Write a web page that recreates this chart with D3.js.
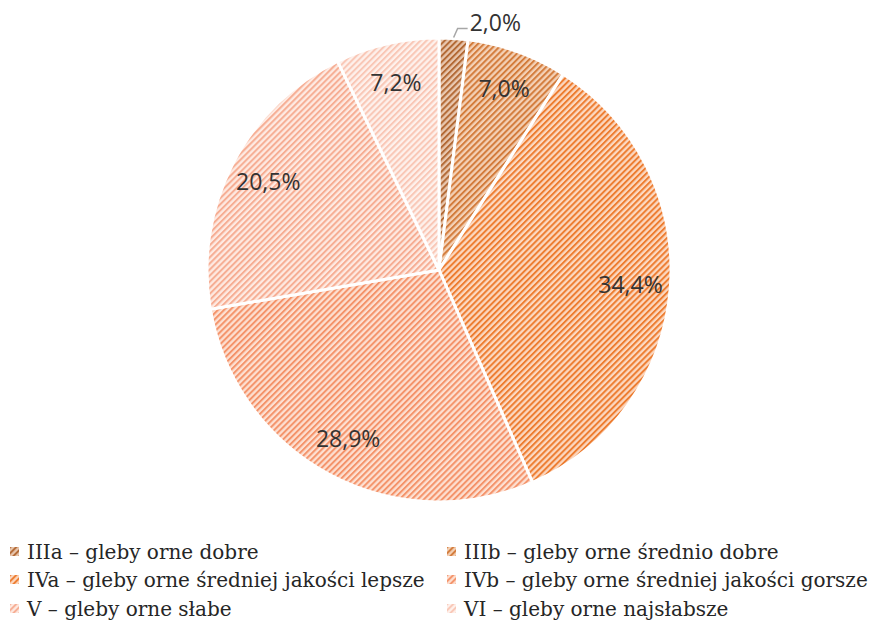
<!DOCTYPE html>
<meta charset="utf-8">
<style>
body { margin: 0; background: #fff; }
.labels text { font: 23px "Open Sans", sans-serif; fill: #333; }
.legend text { font: 20px "DejaVu Serif", serif; fill: #262626; }
</style>
<body>
<svg id="chart" width="877" height="623"></svg>
</body>
<script src="https://d3js.org/d3.v7.min.js"></script>
<script>

var categories = ["IIIa – gleby orne dobre", "IIIb – gleby orne średnio dobre",
  "IVa – gleby orne średniej jakości lepsze", "IVb – gleby orne średniej jakości gorsze",
  "V – gleby orne słabe", "VI – gleby orne najsłabsze"];
var values = [2.0, 7.0, 34.4, 28.9, 20.5, 7.2];
var labels = ["2,0%", "7,0%", "34,4%", "28,9%", "20,5%", "7,2%"];

var stripeColors = ["#b36a36", "#d37c3c", "#ed7d31", "#f4936a", "#f6ad93", "#f9c7b6"];
var bgColors = ["#e9c8b0", "#f4d1b6", "#fcd9c2", "#fde0d2", "#feeae2", "#fef1ec"];

var width = 877, height = 623;
var cx = 439, cy = 270, radius = 232;

var svg = d3.select("#chart");
var defs = svg.append("defs");

stripeColors.forEach(function(c, i) {
  var p = defs.append("pattern")
      .attr("id", "hatch" + i)
      .attr("patternUnits", "userSpaceOnUse")
      .attr("width", 4.3)
      .attr("height", 4.3)
      .attr("patternTransform", "rotate(-45)");
  p.append("rect")
      .attr("width", 4.3).attr("height", 4.3)
      .attr("fill", bgColors[i]);
  p.append("rect")
      .attr("width", 4.3).attr("height", 2)
      .attr("fill", c);
});

var pie = d3.pie().sort(null).value(function(d) { return d; });
var arcs = pie(values);

var arc = d3.arc().innerRadius(0).outerRadius(radius);
var labelArc = d3.arc().innerRadius(192).outerRadius(192);

var g = svg.append("g").attr("transform", "translate(" + cx + "," + cy + ")");

g.selectAll("path")
  .data(arcs)
  .enter().append("path")
    .attr("d", arc)
    .attr("fill", function(d, i) { return "url(#hatch" + i + ")"; })
    .attr("stroke", "#fff")
    .attr("stroke-width", 3)
    .attr("stroke-linejoin", "round");

// leader line for the small slice
var a0 = (arcs[0].startAngle + arcs[0].endAngle) / 2;
var p1 = [Math.sin(a0) * (radius + 1), -Math.cos(a0) * (radius + 1)];
var p2 = [p1[0] + 4, p1[1] - 9];
var p3 = [p2[0] + 10, p2[1]];
g.append("polyline")
  .attr("points", [p1, p2, p3].map(function(p) { return p.join(","); }).join(" "))
  .attr("fill", "none")
  .attr("stroke", "#a6a6a6")
  .attr("stroke-width", 1.5);

var lab = g.append("g").attr("class", "labels");

lab.selectAll("text")
  .data(arcs)
  .enter().append("text")
    .attr("text-anchor", function(d, i) { return i === 0 ? "start" : "middle"; })
    .attr("dy", "0.35em")
    .attr("transform", function(d, i) {
      if (i === 0) return "translate(" + (p3[0] + 2) + "," + (p3[1] - 6) + ")";
      return "translate(" + labelArc.centroid(d) + ")";
    })
    .text(function(d, i) { return labels[i]; });

// legend
var legend = svg.append("g").attr("class", "legend");
var colX = [10, 447], rowY = [552, 580, 609];

var item = legend.selectAll("g")
  .data(categories)
  .enter().append("g")
    .attr("transform", function(d, i) {
      return "translate(" + colX[i % 2] + "," + rowY[Math.floor(i / 2)] + ")";
    });

item.append("rect")
    .attr("x", 0).attr("y", -5)
    .attr("width", 9).attr("height", 9)
    .attr("fill", function(d, i) { return "url(#hatch" + i + ")"; });

item.append("text")
    .attr("x", 17)
    .attr("dy", "0.35em")
    .text(function(d) { return d; });

</script>
